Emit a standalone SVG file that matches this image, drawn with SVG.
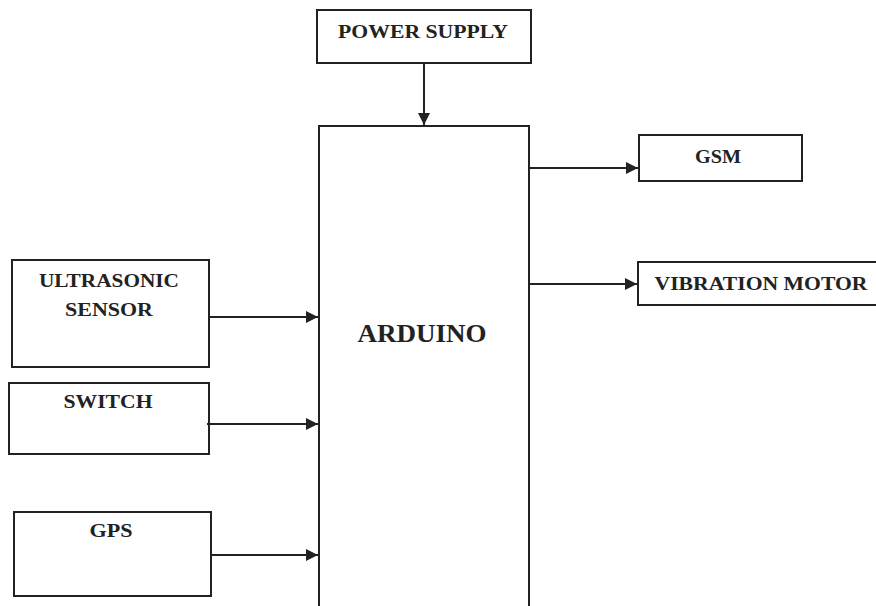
<svg xmlns="http://www.w3.org/2000/svg" width="876" height="606" viewBox="0 0 876 606">
<style>
.box{fill:#fff;stroke:#222;stroke-width:2}
.lbl{font-family:"Liberation Serif","DejaVu Serif",serif;font-weight:bold;font-size:19px;fill:#222;text-anchor:middle}
.big{font-size:25px}
.con{stroke:#222;stroke-width:2;fill:none;marker-end:url(#ah)}
</style>
<defs>
<marker id="ah" viewBox="0 0 10 10" refX="10" refY="5" markerWidth="6" markerHeight="6" markerUnits="strokeWidth" orient="auto">
<path d="M0,0 L10,5 L0,10 z" fill="#222"/>
</marker>
</defs>
<rect width="876" height="606" fill="#fff"/>
<g id="power"><rect class="box" x="317" y="10" width="214" height="53"/><text class="lbl" x="423" y="38" textLength="170" lengthAdjust="spacingAndGlyphs">POWER SUPPLY</text></g>
<g id="arduino"><rect class="box" x="319" y="126" width="210" height="482"/><text class="lbl big" x="422" y="342" textLength="129" lengthAdjust="spacingAndGlyphs">ARDUINO</text></g>
<g id="gsm"><rect class="box" x="639" y="135" width="163" height="46"/><text class="lbl" x="718" y="163" textLength="46" lengthAdjust="spacingAndGlyphs">GSM</text></g>
<g id="vibration"><rect class="box" x="638" y="262" width="242" height="43"/><text class="lbl" x="761" y="290" textLength="213" lengthAdjust="spacingAndGlyphs">VIBRATION MOTOR</text></g>
<g id="ultrasonic"><rect class="box" x="12" y="260" width="197" height="107"/><text class="lbl" x="109" y="287" textLength="140" lengthAdjust="spacingAndGlyphs">ULTRASONIC</text><text class="lbl" x="109" y="316" textLength="88" lengthAdjust="spacingAndGlyphs">SENSOR</text></g>
<g id="switch"><rect class="box" x="9" y="383" width="200" height="71"/><text class="lbl" x="108" y="408" textLength="89" lengthAdjust="spacingAndGlyphs">SWITCH</text></g>
<g id="gps"><rect class="box" x="14" y="512" width="197" height="84"/><text class="lbl" x="111" y="537" textLength="43" lengthAdjust="spacingAndGlyphs">GPS</text></g>
<g id="connectors">
<line class="con" x1="424" y1="63" x2="424" y2="125"/>
<line class="con" x1="529" y1="168" x2="638" y2="168"/>
<line class="con" x1="529" y1="284" x2="637" y2="284"/>
<line class="con" x1="209" y1="317" x2="318" y2="317"/>
<line class="con" x1="207" y1="424" x2="318" y2="424"/>
<line class="con" x1="211" y1="555" x2="318" y2="555"/>
</g>
</svg>
